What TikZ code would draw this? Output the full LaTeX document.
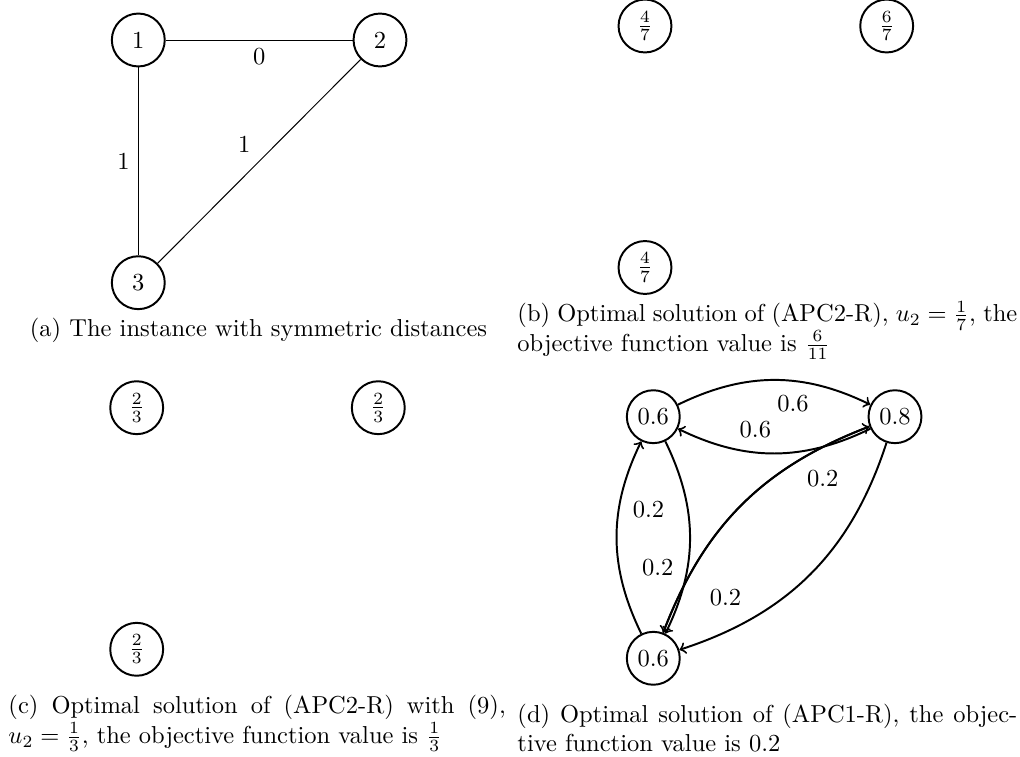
\documentclass[tikz,border=0pt]{standalone}
\begin{document}
\begin{tikzpicture}[x=0.40816pt, y=0.40816pt,
  vert/.style={circle, draw, thick, minimum size=21.6pt, inner sep=0pt},
  thinedge/.style={thin},
  arc/.style={thick, ->},
  capt/.style={anchor=base west, inner sep=0pt, align=justify}]
\useasboundingbox (0,0) rectangle (1020,-757);

% (a)
\node[vert] (a1) at (138.3,-40) {1};
\node[vert] (a2) at (380,-40) {2};
\node[vert] (a3) at (138.3,-282.7) {3};
\draw[thinedge] (a1) -- node[below] {0} (a2);
\draw[thinedge] (a1) -- node[left] {1} (a3);
\draw[thinedge] (a2) -- node[above left] {1} (a3);
\node[anchor=base, inner sep=0pt] (capa) at (258.5,-336.5) {(a) The instance with symmetric distances};

% (b)
\node[vert] (b1) at (645,-26) {$\frac{4}{7}$};
\node[vert] (b2) at (886.7,-26) {$\frac{6}{7}$};
\node[vert] (b3) at (645,-267.5) {$\frac{4}{7}$};
\node[capt, text width=204pt] (capb) at (517,-322) {(b) Optimal solution of (APC2-R), $u_2=\frac{1}{7}$, the\linebreak objective function value is $\frac{6}{11}$};

% (c)
\node[vert] (c1) at (136.7,-407.7) {$\frac{2}{3}$};
\node[vert] (c2) at (378.3,-407.7) {$\frac{2}{3}$};
\node[vert] (c3) at (136.7,-649.3) {$\frac{2}{3}$};
\node[capt, text width=203pt] (capc) at (8,-714) {(c) Optimal solution of (APC2-R) with (9),\linebreak $u_2=\frac{1}{3}$, the objective function value is $\frac{1}{3}$};

% (d)
\node[vert] (d1) at (653.3,-416.7) {0.6};
\node[vert] (d2) at (895,-416.7) {0.8};
\node[vert] (d3) at (653.3,-658.3) {0.6};
\draw[arc] (d1) to[bend left=26] node[pos=0.6, below=2pt] {0.6} (d2);
\draw[arc] (d2) to[bend left=26] node[pos=0.6, above=2pt] {0.6} (d1);
\draw[arc] (d3) to[bend left=26] node[pos=0.65, right=2pt] {0.2} (d1);
\draw[arc] (d1) to[bend left=26] node[pos=0.66, left=2pt] {0.2} (d3);
\draw[arc] (d2) to[bend left=27] node[pos=0.75, above left=1pt] {0.2} (d3);
\draw[arc] (d3) to[bend left=24] node[pos=0.75, below right] {0.2} (d2);
\draw[arc] (d2) to[bend right=24] (d3);
\node[capt, text width=204pt] (capd) at (517,-722.5) {(d) Optimal solution of (APC1-R), the objec-\linebreak tive function value is 0.2};
\end{tikzpicture}
\end{document}
